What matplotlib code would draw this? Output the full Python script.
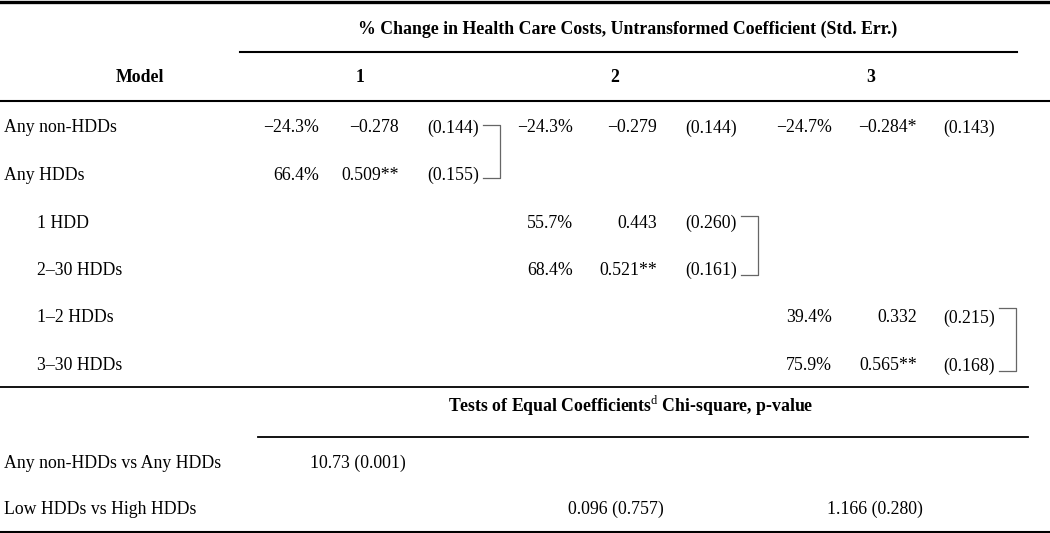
import matplotlib.pyplot as plt

plt.rcParams['font.family'] = ['Liberation Serif', 'DejaVu Serif']
plt.rcParams['mathtext.fontset'] = 'custom'
plt.rcParams['mathtext.rm'] = 'Liberation Serif'

# table contents
row_labels = ["Any non-HDDs", "Any HDDs", "1 HDD", "2\u201330 HDDs", "1\u20132 HDDs", "3\u201330 HDDs"]
row_indent = [0, 0, 1, 1, 1, 1]
model_names = ["1", "2", "3"]

# per model: which rows it fills, % change, coefficient, std. err.
m1_rows = [0, 1]
m1_pct = ["\u221224.3%", "66.4%"]
m1_coef = ["\u22120.278", "0.509**"]
m1_se = ["(0.144)", "(0.155)"]

m2_rows = [0, 2, 3]
m2_pct = ["\u221224.3%", "55.7%", "68.4%"]
m2_coef = ["\u22120.279", "0.443", "0.521**"]
m2_se = ["(0.144)", "(0.260)", "(0.161)"]

m3_rows = [0, 4, 5]
m3_pct = ["\u221224.7%", "39.4%", "75.9%"]
m3_coef = ["\u22120.284*", "0.332", "0.565**"]
m3_se = ["(0.143)", "(0.215)", "(0.168)"]

# rows compared by the bracket in each model
m1_bracket = (0, 1)
m2_bracket = (2, 3)
m3_bracket = (4, 5)

test_labels = ["Any non-HDDs vs Any HDDs", "Low HDDs vs High HDDs"]
test_m1 = ["10.73 (0.001)", ""]
test_m2 = ["", "0.096 (0.757)"]
test_m3 = ["", "1.166 (0.280)"]

fs = 12.8
fig = plt.figure(figsize=(10.5, 5.33), dpi=100)
ax = fig.add_axes([0, 0, 1, 1])
ax.set_xlim(0, 1050)
ax.set_ylim(533, 0)
ax.axis('off')

row_y = [127, 174.5, 222, 269.5, 317, 365]
base = 5.5  # offset from visual centre to baseline

# rules
ax.plot([0, 1050], [2, 2], color='black', lw=2.4)
ax.plot([240, 1017], [51.5, 51.5], color='black', lw=1.5)
ax.plot([0, 1050], [100.5, 100.5], color='black', lw=1.5)
ax.plot([0, 1028], [387, 387], color='black', lw=1.3)
ax.plot([258, 1028], [437, 437], color='black', lw=1.3)
ax.plot([0, 1050], [531.5, 531.5], color='black', lw=1.5)

# header
ax.text(628, 28 + base, "% Change in Health Care Costs, Untransformed Coefficient (Std. Err.)",
        ha='center', va='baseline', fontsize=fs, fontweight='bold')
ax.text(140, 77 + base, "Model", ha='center', va='baseline', fontsize=fs, fontweight='bold')
for x, name in zip([360, 615, 871], model_names):
    ax.text(x, 77 + base, name, ha='center', va='baseline', fontsize=fs, fontweight='bold')

# row labels
for y, lab, ind in zip(row_y, row_labels, row_indent):
    ax.text(4 + 33 * ind, y + base, lab, ha='left', va='baseline', fontsize=fs)

# model columns: right edges of %, coef and se, plus bracket end offsets
models = [
    (m1_rows, m1_pct, m1_coef, m1_se, (319, 399, 479), m1_bracket, (-2, 3.5)),
    (m2_rows, m2_pct, m2_coef, m2_se, (573, 657, 737), m2_bracket, (-6, 5.5)),
    (m3_rows, m3_pct, m3_coef, m3_se, (832, 917, 995), m3_bracket, (-9, 6)),
]
for rows, pct, coef, se, (xp, xc, xs), br, (dt, db) in models:
    for r, p, c, s in zip(rows, pct, coef, se):
        y = row_y[r] + base
        ax.text(xp, y, p, ha='right', va='baseline', fontsize=fs)
        ax.text(xc, y, c, ha='right', va='baseline', fontsize=fs)
        ax.text(xs, y, s, ha='right', va='baseline', fontsize=fs)
    # bracket linking the compared rows
    y0, y1 = row_y[br[0]] + dt, row_y[br[1]] + db
    ax.plot([xs + 4, xs + 21, xs + 21, xs + 4], [y0, y0, y1, y1], color='#666666', lw=0.9)

# tests of equal coefficients
ax.text(631, 407 + base, "Tests of Equal Coefficients$^{\\mathrm{d}}$ Chi-square, p-value",
        ha='center', va='baseline', fontsize=fs, fontweight='bold')
test_y = [462, 508]
for y, lab, a, b, c in zip(test_y, test_labels, test_m1, test_m2, test_m3):
    ax.text(4, y + base, lab, ha='left', va='baseline', fontsize=fs)
    ax.text(358, y + base, a, ha='center', va='baseline', fontsize=fs)
    ax.text(616, y + base, b, ha='center', va='baseline', fontsize=fs)
    ax.text(874.5, y + base, c, ha='center', va='baseline', fontsize=fs)

fig.savefig('out.png', dpi=100)
